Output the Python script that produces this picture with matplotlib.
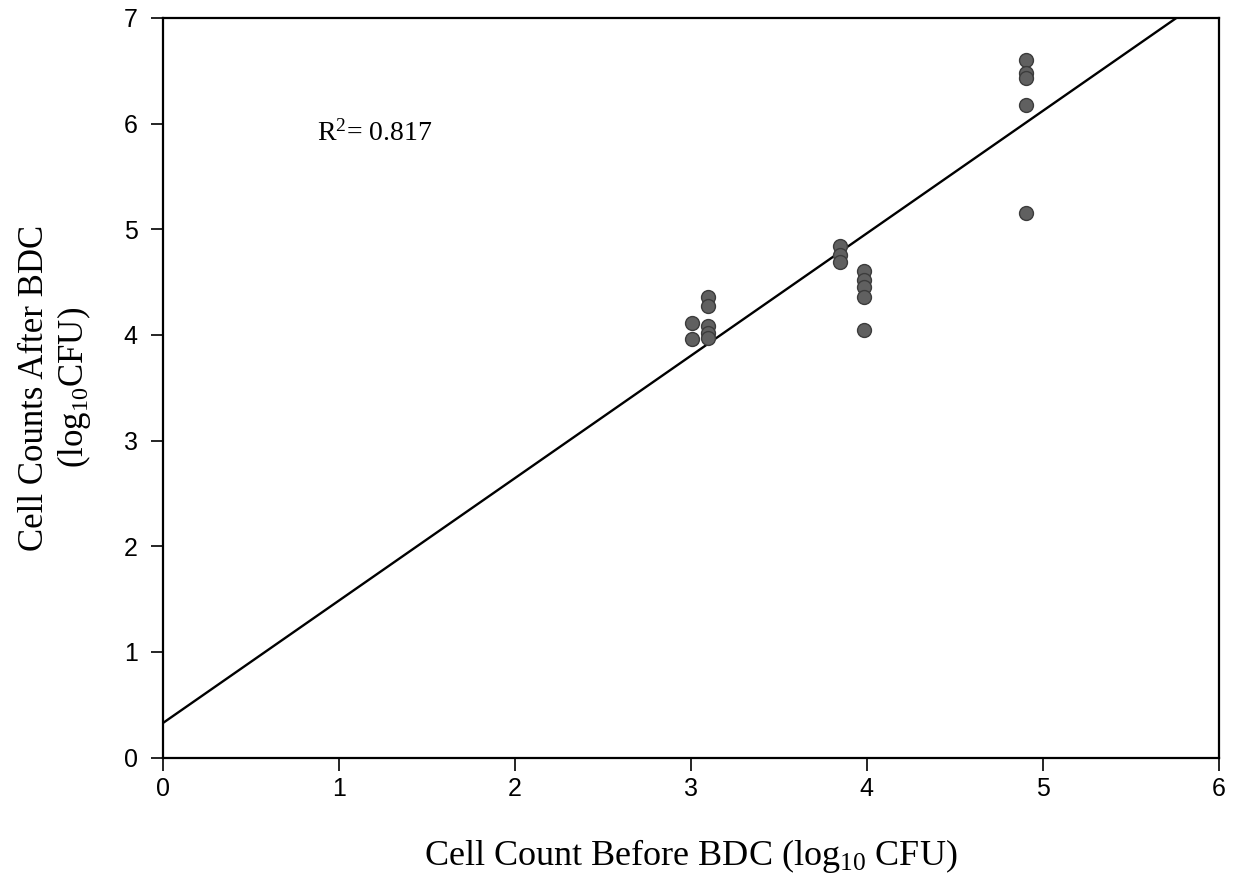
import matplotlib
matplotlib.use("Agg")
import matplotlib.pyplot as plt
import numpy as np

# Data
x_before = [3.01, 3.01,
            3.10, 3.10, 3.10, 3.10, 3.10,
            3.85, 3.85, 3.85,
            3.985, 3.985, 3.985, 3.985, 3.985,
            4.905, 4.905, 4.905, 4.905, 4.905]
y_after = [4.11, 3.96,
           4.36, 4.27, 4.08, 4.02, 3.97,
           4.84, 4.76, 4.69,
           4.60, 4.52, 4.45, 4.36, 4.05,
           6.60, 6.48, 6.43, 6.18, 5.15]
fit_intercept = 0.325
fit_slope = 1.159
r2_text = "R$^2$= 0.817"
x_ticks = [0, 1, 2, 3, 4, 5, 6]
y_ticks = [0, 1, 2, 3, 4, 5, 6, 7]

plt.rcParams['mathtext.fontset'] = 'custom'
plt.rcParams['mathtext.rm'] = 'Liberation Serif'
plt.rcParams['mathtext.it'] = 'Liberation Serif:italic'

fig = plt.figure(figsize=(12.34, 8.92), dpi=100)
ax = fig.add_axes([0.1317, 0.1506, 0.8561, 0.8294])

xl = np.array([0, 6])
ax.plot(xl, fit_intercept + fit_slope * xl, color='black', lw=1.7, zorder=2)
ax.plot(x_before, y_after, 'o', ms=10, mfc='#606060', mec='#3c3c3c', mew=1.0, zorder=3)

ax.set_xlim(0, 6)
ax.set_ylim(0, 7)
ax.set_xticks(x_ticks)
ax.set_yticks(y_ticks)
ax.tick_params(direction='out', length=9, width=1.2, labelsize=18)
ax.tick_params(axis='x', pad=5)
ax.tick_params(axis='y', pad=9)
for lab in ax.get_xticklabels() + ax.get_yticklabels():
    lab.set_fontfamily('Liberation Sans')
for s in ax.spines.values():
    s.set_linewidth(1.6)

ax.set_xlabel("Cell Count Before BDC (log$_{10}$ CFU)", family='Liberation Serif',
              fontsize=26, labelpad=26)
ax.set_ylabel("Cell Counts After BDC\n(log$_{10}$CFU)", family='Liberation Serif',
              fontsize=25, labelpad=22, linespacing=1.15)

ax.text(0.88, 5.91, r2_text, family='Liberation Serif', fontsize=20, va='center', ha='left')

fig.savefig("out.png", dpi=100)
